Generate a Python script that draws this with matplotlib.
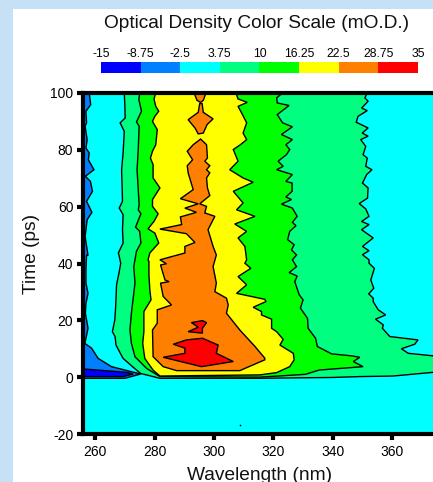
import matplotlib
matplotlib.use("Agg")
import matplotlib.pyplot as plt
from matplotlib.patches import Rectangle

plt.rcParams['font.family'] = ['Liberation Sans', 'DejaVu Sans']
plt.rcParams['axes.unicode_minus'] = False

W, H = 433, 482
scale_levels = [-15, -8.75, -2.5, 3.75, 10, 16.25, 22.5, 28.75, 35]
scale_labels = ['-15', '-8.75', '-2.5', '3.75', '10', '16.25', '22.5', '28.75', '35']
scale_colors = ['#0000FF', '#0080FF', '#00FFFF', '#00FF80', '#00FF00', '#FFFF00', '#FF8000', '#FF0000']

XMIN, XMAX, YMIN, YMAX = 255.9, 376.1, -20, 100

# contour 3.75 left / right
c375_left_wl = [269.8,270,270.1,268.4,269.8,269.4,268.9,269.1,269.2,268.1,269.4,269.2,269.4,267.8,268,268.6,268,267.2,266.9,266.6,265.8,266.7,267,269.4,272.8,275.3]
c375_left_t = [100,95.3,91.2,89.5,86.5,78.9,73,66,61.9,59.5,57.2,51.9,47.2,43.7,43,40.1,36.6,32.5,24.8,20.1,16,14.3,11.3,6.6,3.5,1.3]
c375_bottom_wl = [281.8,315.5,340,349,360.3,373.8,XMAX]
c375_bottom_t = [-0.4,-0.4,-0.1,0.2,0.4,1.7,1.9]
c375_right_wl = [351.6,350.8,351.9,349.7,351.6,348.5,347.9,351.9,349.9,351.9,349.4,351.1,350.2,351.6,351.1,353.2,351.4,350,351.9,351.7,348.9,351.1,352.2,349.7,352.2,349.7,353.6,350,352.2,350,352.2,352.2,354,352.8,353.8,352.1,353.6,353.6,355.3,357.8,354.4,357,356.7,359.2,368.7,367.6,363.1,365.4,373.8,XMAX]
c375_right_t = [100,98.3,97.1,94.7,93.8,91.8,89.7,87.7,85.9,84.8,83.6,81.2,78.3,77.1,74.2,73,71.3,68.3,66.6,63,61.1,59.2,56.6,54.8,53.7,51.9,49,46,44.5,43.1,41.3,40.1,38.3,34.2,31.3,29.3,27.8,26.6,23.7,21.9,20.4,18.4,17.2,14.3,13.1,11.6,10,8.4,7.5,7.3]

# contour 10 left / right
c10_left_wl = [275,274.7,275.6,273.9,274.8,274.5,274.1,274.8,274.5,275.4,273.6,275,275.4,273.9,273.4,273,273.4,272.2,271.7,272.2,273.4,277.3,281.8]
c10_left_t = [100,97.7,93.6,89.8,88.3,80.1,73,60.7,58.9,57.5,52.8,51.3,47.2,44.3,41.3,38.9,33.1,22.5,16.6,11.9,7.2,3.1,0.2]
c10_right_wl = [323.1,321.1,321.3,325.3,321.3,323.1,326.4,322.7,326.4,324.2,325.5,324.4,321.6,323.3,321.1,326.4,324.2,326.3,326.3,324.2,326.1,322.7,326.4,328,326.4,327.6,325.5,324.8,327,326.1,327.8,326.4,327.8,325.3,328,327.2,328.7,330,329.1,331.5,331.7,334.2,334.8,339.6,346.3,349.1,346.9,350.2,335.4,330.8,315.5]
c10_right_t = [100,98.3,96.5,95.6,92.4,89.5,88.1,85.4,83.6,81.8,80.1,78.3,76,74.2,73,71.3,68.9,68.3,65.4,63.4,62.5,60.9,59.5,56.6,54.5,53.3,51.3,48.4,46.6,44.8,43,41.3,38.9,36.8,35.6,33.6,29,27.2,24.3,20.7,17.2,13.7,10.8,8.2,7.5,7,5.5,3.7,2.5,1,0]

# contour 16.25 left / right
c16_left_wl = [280.4,279.8,280.4,281.4,280.1,279.3,280.9,280.4,279.3,278.6,279.5,279.5,281.8,279.3,279.3,281.2,279.8,277.8,280.1,281.4,278.4,277.8,278.1,278.1,278.4,278.8,276.4,276.4,276,276.7,279.5,281.8]
c16_left_t = [100,97.9,95.3,93.6,91.8,90,87.1,81.8,79.5,77.1,74.8,70.1,66.6,62.5,60.1,57.5,54.8,52.2,50.7,47.2,43.7,41.3,40.7,36,30.7,27.2,23.1,16,11.9,6.6,2.5,0.4]
c16_right_wl = [307.4,308.1,311.2,308.1,309.3,311,309.8,311,308.9,306.5,308.1,305.3,309.8,313.2,306.5,309.8,307.6,313.8,307,311,308.1,310.4,311,310.4,312.4,308.1,311,307.6,317.1,317.5,313.2,316,316,319.4,319.4,321.1,323.3,322.2,326.7,327,325.5,321.1,315.5]
c16_right_t = [100,97.9,96.7,95.3,93,89.5,85.9,83.6,81.8,80.1,76,73,70.1,68.6,65.4,61.3,58.9,56.6,53.9,51.3,49,46,41.3,40.1,38.3,35.4,32.5,29.5,27.4,26.6,24.6,23.1,21.9,20.4,17.2,16,13.3,11.3,8.4,6.1,3.7,1.6,0.8]

# contour 22.5 regions
c22_main_wl = [295.5,293,291,292.8,291,291.3,293,288.7,294.7,290.2,294.1,288.7,289.1,281.8,290.7,293.6,290.2,290.2,281.8,284,282,283.5,284.9,282,282.9,285.7,280.9,280.9,279.3,279.5,282.9,287.4,308.7,317.1,317.1,313.8,308.7,304.2,304.8,304.2,300.3,300.8,299.7,300.8,299.7,298,300.3,296.9,297.5,295.2,298.6,297.8,297.5,298.6,297.5,298.6,296.9,297.8,297.5]
c22_main_t = [83.8,81.8,79.5,76.5,74.4,71.9,66,62.8,61,59.5,58,56.4,53.7,52.1,50.5,47.4,46,43.7,41.3,39.9,39.5,34.2,33.6,33.1,28.4,25.4,23.7,19,16.6,7.2,3.7,2.3,2.3,6.1,6.7,10.8,16.6,22.5,25.4,27.8,30.1,33.1,38.9,43,46,51.9,56.6,57.8,60.1,61,63.9,66.6,70.1,71.9,73,74.4,76,77.1,81.8]
c22_mid_wl = [294.7,296.4,297.7,299.7,296.4,296,295.2,294.7,291.3,293.6]
c22_mid_t = [85.6,85.9,88.9,90.9,93.2,96.3,96.3,93.2,90.6,87.7]
c22_top_wl = [293.3,294.3,295.5,296.4,297.3]
c22_top_t = [100,97.4,96.7,97.4,100]

# contour 28.75 regions
c28_main_wl = [286.3,290.7,296.1,301.4,300.8,306.5,295.8,282.9,290.2,290.2]
c28_main_t = [11.6,13.1,13.7,11.3,8.4,5.5,3.7,7,8.4,10.2]
c28_small_wl = [292.4,296.1,297.5,296.1,296.1,291.3,294.7]
c28_small_t = [19.2,19.9,19.2,17.2,15.5,16,17.6]

# contour -2.5 (left strip) and -8.75
cm2_wl = [258,258.5,256.9,257.1,256.6,257.3,256.9,258,257.7,259.6,256.7,258.4,259.1,257.1,258.9,257.3,256.9,256.6,257.6,257.1,256.9,256.9,257.6,256.9,256.7,257.6,256.9,256.5,258.8,261,265.5,270,275.3,270]
cm2_t = [100,95.9,93.6,89.5,88.3,83.6,80.6,78.9,76.5,73,70.7,68.9,65.4,61.9,58,55.4,51.9,49.5,42.8,43,37.8,33.1,29.5,26,22.5,17.2,13.7,11.9,10.2,6.6,3.7,2.5,1.1,-0.4]
cm8_wl = [270.6,272.8,269.4]
cm8_t = [1.7,1.1,0.2]
noise_wl = [308.8]
noise_t = [-16.8]

fig = plt.figure(figsize=(W/100, H/100), dpi=100, facecolor='#C6E0F6')
fig.add_artist(Rectangle((13/W, 0), 1-13/W, 1-9/H, transform=fig.transFigure, facecolor='white', edgecolor='none', zorder=-5))

ax = fig.add_axes([83/W, 1-434/H, 357/W, 341/H], facecolor=scale_colors[2])
ax.set_xlim(XMIN, XMAX)
ax.set_ylim(YMIN, YMAX)

def region(wl, t, color):
    ax.fill(wl, t, facecolor=color, edgecolor='black', linewidth=1.0, joinstyle='miter')

region([XMIN]+cm2_wl+[XMIN], [100]+cm2_t+[-0.4], scale_colors[1])
region([XMIN]+cm8_wl+[XMIN], [2.9]+cm8_t+[0.2], scale_colors[0])
region(c375_left_wl+c375_bottom_wl+c375_right_wl[::-1], c375_left_t+c375_bottom_t+c375_right_t[::-1], scale_colors[3])
region(c10_left_wl+c10_right_wl[::-1], c10_left_t+c10_right_t[::-1], scale_colors[4])
region(c16_left_wl+c16_right_wl[::-1], c16_left_t+c16_right_t[::-1], scale_colors[5])
region(c22_main_wl, c22_main_t, scale_colors[6])
region(c22_mid_wl, c22_mid_t, scale_colors[6])
region(c22_top_wl, c22_top_t, scale_colors[6])
region(c28_main_wl, c28_main_t, scale_colors[7])
region(c28_small_wl, c28_small_t, scale_colors[7])
ax.scatter(noise_wl, noise_t, s=1.5, color='black', linewidths=0)

ax.set_xticks([260, 280, 300, 320, 340, 360])
ax.set_yticks([-20, 0, 20, 40, 60, 80, 100])
ax.tick_params(axis='both', width=3, length=4, labelsize=10, pad=3, color='black')
ax.tick_params(axis='x', pad=4)
for s in ax.spines.values():
    s.set_linewidth(3)
ax.set_axisbelow(False)
fig.text(260/W, 1-475/H, 'Wavelength (nm)', ha='center', va='center', fontsize=13.8, color='#111111')
fig.text(32/W, 1-254/H, 'Time (ps)', ha='center', va='center', rotation=90, fontsize=13.8, color='#111111')
fig.text(257/W, 1-24/H, 'Optical Density Color Scale (mO.D.)', ha='center', va='center', fontsize=13.8, color='#111111')

cax = fig.add_axes([101/W, 1-72.7/H, 317/W, 10.7/H])
for lo, hi, c in zip(scale_levels[:-1], scale_levels[1:], scale_colors):
    cax.barh(0, hi-lo, left=lo, height=1, color=c, linewidth=0)
cax.set_xlim(scale_levels[0], scale_levels[-1])
cax.set_ylim(-0.5, 0.5)
cax.set_yticks([])
cax.xaxis.tick_top()
cax.set_xticks(scale_levels)
cax.set_xticklabels(scale_labels, fontsize=8.8)
cax.tick_params(axis='x', length=0, pad=1.5)
for s in cax.spines.values():
    s.set_visible(False)

fig.savefig('out.png', dpi=100, facecolor=fig.get_facecolor())
